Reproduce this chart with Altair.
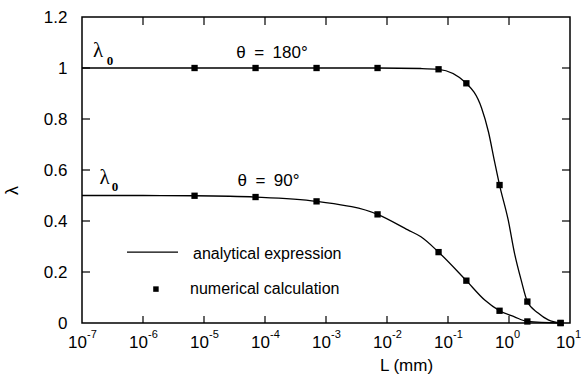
import altair as alt
import pandas as pd

# ---- data ----
L_num = [7e-6, 7e-5, 7e-4, 7e-3, 0.07, 0.2, 0.7, 2.0, 7.0]
lam180_num = [1.0, 1.0, 1.0, 1.0, 0.995, 0.94, 0.541, 0.084, 0.0]
lam90_num = [0.499, 0.494, 0.477, 0.426, 0.278, 0.166, 0.048, 0.006, 0.0]

L_c180 = [1e-7, 1e-5, 1e-3, 7e-3, 0.036, 0.07, 0.2, 0.355, 0.46, 0.58, 0.7, 0.97, 1.23, 1.58, 2.0, 3.0, 4.4, 7.0]
lam_c180 = [1.0, 1.0, 1.0, 1.0, 0.998, 0.995, 0.94, 0.843, 0.75, 0.633, 0.541, 0.404, 0.274, 0.169, 0.084, 0.039, 0.012, 0.0]

L_c90 = [1e-7, 1e-6, 7e-6, 7e-5, 7e-4, 7e-3, 0.022, 0.036, 0.07, 0.2, 0.4, 0.7, 1.23, 2.0, 7.0]
lam_c90 = [0.500, 0.500, 0.499, 0.494, 0.477, 0.426, 0.365, 0.338, 0.278, 0.166, 0.09, 0.048, 0.024, 0.006, 0.0]

x_ticks = [1e-7, 1e-6, 1e-5, 1e-4, 1e-3, 1e-2, 1e-1, 1e0, 1e1]
x_exp = ["-7", "-6", "-5", "-4", "-3", "-2", "-1", "0", "1"]
y_ticks = [0, 0.2, 0.4, 0.6, 0.8, 1.0, 1.2]

W, H = 488, 306
FONT = "Liberation Sans"

xscale = alt.Scale(type="log", domain=[1e-7, 10], nice=False)
yscale = alt.Scale(domain=[0, 1.2], nice=False, zero=False)

x_axis = alt.Axis(labels=False, ticks=False, domain=False, grid=False,
                  title="L (mm)", titleFont=FONT, titleFontSize=17,
                  titleFontWeight="normal", titleColor="black",
                  titleX=324, titleY=47, titleBaseline="alphabetic",
                  titleAlign="center", titleAnchor="start")
y_axis = alt.Axis(values=y_ticks, ticks=False, domain=False, grid=False,
                  format=".1~f", labelFont=FONT, labelFontSize=17,
                  labelColor="black", labelPadding=15,
                  title="λ", titleFont=FONT, titleFontSize=18,
                  titleFontWeight="normal", titleColor="black",
                  titleX=-70, titleY=173, titleAngle=-90,
                  titleAlign="center", titleBaseline="middle")


def X(field):
    return alt.X(f"{field}:Q", scale=xscale, axis=x_axis)


def Y(field):
    return alt.Y(f"{field}:Q", scale=yscale, axis=y_axis)


curves = pd.concat([
    pd.DataFrame({"L": L_c180, "lam": lam_c180, "s": "180"}),
    pd.DataFrame({"L": L_c90, "lam": lam_c90, "s": "90"}),
])
points = pd.concat([
    pd.DataFrame({"L": L_num, "lam": lam180_num, "s": "180"}),
    pd.DataFrame({"L": L_num, "lam": lam90_num, "s": "90"}),
])

line = alt.Chart(curves).mark_line(color="black", strokeWidth=1.3,
                                   interpolate="monotone").encode(
    x=X("L"), y=Y("lam"), detail="s:N")
pts = alt.Chart(points).mark_point(shape="square", filled=True, color="black",
                                   size=40, opacity=1).encode(
    x=X("L"), y=Y("lam"))

xt = pd.DataFrame({"t": x_ticks, "e": x_exp})
xt_inner = xt.iloc[1:-1]
yt = pd.DataFrame({"v": y_ticks[1:-1]})

bot_ticks = alt.Chart(xt_inner).mark_rule(color="black", strokeWidth=1.2).encode(
    x=X("t"), y=alt.value(H), y2=alt.value(H - 7))
top_ticks = alt.Chart(xt_inner).mark_rule(color="black", strokeWidth=1.2).encode(
    x=X("t"), y=alt.value(0), y2=alt.value(8))
left_ticks = alt.Chart(yt).mark_rule(color="black", strokeWidth=1.2).encode(
    y=Y("v"), x=alt.value(0), x2=alt.value(8))
right_ticks = alt.Chart(yt).mark_rule(color="black", strokeWidth=1.2).encode(
    y=Y("v"), x=alt.value(W), x2=alt.value(W - 8))

lab10 = alt.Chart(xt).mark_text(font=FONT, fontSize=17, align="right",
                                baseline="alphabetic", dx=5, color="black").encode(
    x=X("t"), y=alt.value(H + 25), text=alt.value("10"))
labexp = alt.Chart(xt).mark_text(font=FONT, fontSize=11, align="left",
                                 baseline="alphabetic", dx=5, color="black").encode(
    x=X("t"), y=alt.value(H + 15), text="e:N")

# annotations (placed in data coordinates)
ann_txt = ["θ\u2002=\u2002180°", "θ\u2002=\u200290°"]
ann_L = [1.3e-4, 1.14e-4]
ann_y = [1.039, 0.537]
ann = alt.Chart(pd.DataFrame({"L": ann_L, "lam": ann_y, "txt": ann_txt})).mark_text(
    font=FONT, fontSize=17, align="center", baseline="alphabetic", color="black").encode(
    x=X("L"), y=Y("lam"), text="txt:N")

lam_L = [1.83e-7, 2.34e-7]
lam_y = [1.043, 0.545]
sub_L = [2.88e-7, 3.47e-7]
sub_y = [1.010, 0.516]
lam_txt = alt.Chart(pd.DataFrame({"L": lam_L, "lam": lam_y, "txt": ["λ", "λ"]})).mark_text(
    font="Liberation Serif", fontSize=21, align="center", baseline="alphabetic",
    color="black").encode(x=X("L"), y=Y("lam"), text="txt:N")
sub_txt = alt.Chart(pd.DataFrame({"L": sub_L, "lam": sub_y, "txt": ["0", "0"]})).mark_text(
    font="Liberation Serif", fontSize=13, fontWeight="bold", align="center",
    baseline="alphabetic", color="black").encode(x=X("L"), y=Y("lam"), text="txt:N")

# legend
leg_line = alt.Chart(pd.DataFrame({"L": [5.47e-7, 3.75e-6], "lam": [0.278, 0.278]})).mark_line(
    color="black", strokeWidth=1.3).encode(x=X("L"), y=Y("lam"))
leg_pt = alt.Chart(pd.DataFrame({"L": [1.63e-6], "lam": [0.133]})).mark_point(
    shape="square", filled=True, color="black", size=30, opacity=1).encode(
    x=X("L"), y=Y("lam"))
leg_txt = alt.Chart(pd.DataFrame({
    "L": [6.6e-6, 5.9e-6], "lam": [0.251, 0.114],
    "txt": ["analytical expression", "numerical calculation"]})).mark_text(
    font=FONT, fontSize=16, align="left", baseline="alphabetic", color="black").encode(
    x=X("L"), y=Y("lam"), text="txt:N")

chart = alt.layer(
    line, pts, bot_ticks, top_ticks, left_ticks, right_ticks,
    lab10, labexp, ann, lam_txt, sub_txt, leg_line, leg_pt, leg_txt
).properties(
    width=W, height=H,
    autosize=alt.AutoSizeParams(type="none"),
    padding={"left": 82, "top": 17, "right": 11, "bottom": 52},
    background="white",
).configure_view(stroke="black", strokeWidth=1.5)

chart.save("out.html", embed_options={"renderer": "svg", "actions": False})
